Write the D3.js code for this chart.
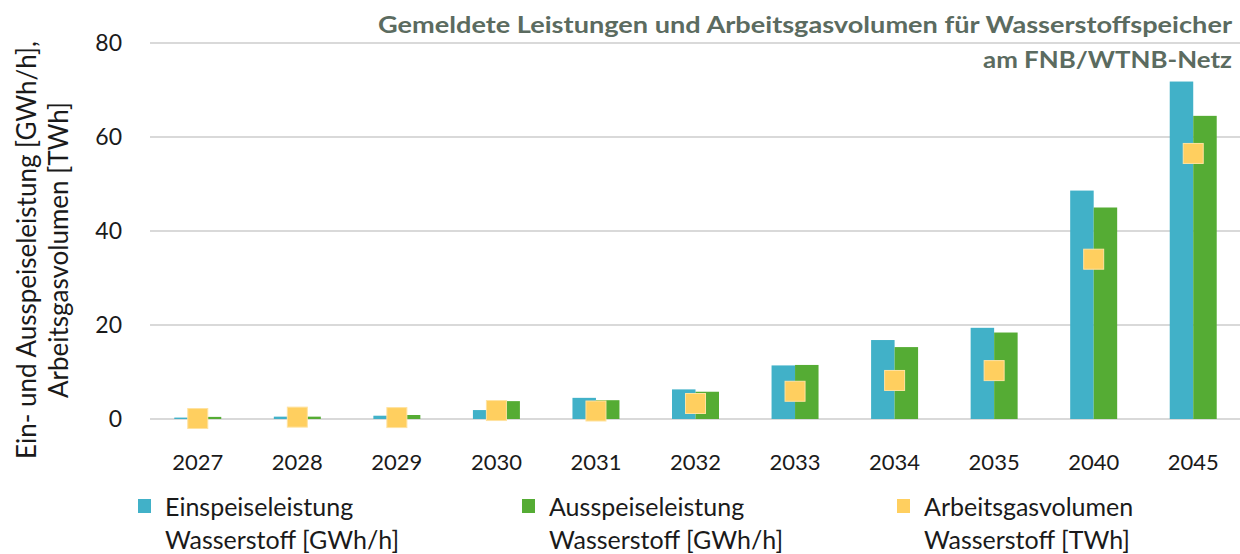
<!DOCTYPE html>
<html><head><meta charset="utf-8">
<script src="https://cdn.jsdelivr.net/npm/d3@7"></script>
<style>body{margin:0;background:#fff}svg{display:block}text{font-family:Lato,"Open Sans",sans-serif}</style>
</head><body><svg id="c" width="1240" height="554"></svg>
<script>
const categories = ["2027","2028","2029","2030","2031","2032","2033","2034","2035","2040","2045"];
const einspeisung = [0.3,0.5,0.7,1.9,4.5,6.3,11.4,16.8,19.4,48.6,71.8];
const ausspeisung = [0.45,0.5,0.85,3.8,4.0,5.8,11.5,15.3,18.4,45.0,64.5];
const arbeitsgas = [0.1,0.4,0.3,1.8,1.7,3.3,5.9,8.2,10.3,34.0,56.5];
const yTicks = [0,20,40,60,80];
const seriesNames = [["Einspeiseleistung","Wasserstoff [GWh/h]"],["Ausspeiseleistung","Wasserstoff [GWh/h]"],["Arbeitsgasvolumen","Wasserstoff [TWh]"]];
const colors = ["#41B1C8","#55AC34","#FFCF5F"];

const svg = d3.select("#c");
const x = d3.scaleBand().domain(categories).range([148,1243]).padding(0);
const y = d3.scaleLinear().domain([0,80]).range([419,43]);
const bw = x.bandwidth()*0.236;

// gridlines
svg.append("g").selectAll("line").data(yTicks).join("line")
  .attr("x1",150).attr("x2",1240).attr("y1",d=>y(d)).attr("y2",d=>y(d))
  .attr("stroke","#d9d9d9").attr("stroke-width",2);

// y tick labels
svg.append("g").selectAll("text").data(yTicks).join("text")
  .attr("x",122).attr("y",d=>y(d)+8).attr("text-anchor","end")
  .attr("font-size",23).attr("fill","#1a1a1a").text(d=>d);

// x labels
svg.append("g").selectAll("text").data(categories).join("text")
  .attr("x",d=>x(d)+x.bandwidth()/2).attr("y",470).attr("text-anchor","middle")
  .attr("font-size",22).attr("fill","#1a1a1a").text(d=>d);

// bars
const g = svg.append("g");
g.selectAll("rect.e").data(categories).join("rect").attr("class","e")
  .attr("x",d=>x(d)+x.bandwidth()/2-bw).attr("width",bw)
  .attr("y",(d,i)=>y(einspeisung[i])).attr("height",(d,i)=>y(0)-y(einspeisung[i]))
  .attr("fill",colors[0]);
g.selectAll("rect.a").data(categories).join("rect").attr("class","a")
  .attr("x",d=>x(d)+x.bandwidth()/2).attr("width",bw)
  .attr("y",(d,i)=>y(ausspeisung[i])).attr("height",(d,i)=>y(0)-y(ausspeisung[i]))
  .attr("fill",colors[1]);
g.selectAll("rect.v").data(categories).join("rect").attr("class","v")
  .attr("x",d=>x(d)+x.bandwidth()/2-10).attr("width",20)
  .attr("y",(d,i)=>y(arbeitsgas[i])-10).attr("height",20)
  .attr("fill",colors[2]).attr("stroke","#ffe2a0").attr("stroke-width",1);

// y axis title
const yt = svg.append("text").attr("transform","translate(0,250) rotate(-90)")
  .attr("text-anchor","middle").attr("font-size",26).attr("fill","#1a1a1a");
yt.append("tspan").attr("x",0).attr("y",36).text("Ein- und Ausspeiseleistung [GWh/h],");
yt.append("tspan").attr("x",0).attr("y",68).text("Arbeitsgasvolumen [TWh]");

// title
svg.append("text").attr("x",1232).attr("y",33).attr("text-anchor","end")
  .attr("font-family","'Open Sans'").attr("font-weight",700).attr("font-size",22)
  .attr("fill","#5b6b60").attr("textLength",854).attr("lengthAdjust","spacingAndGlyphs")
  .text("Gemeldete Leistungen und Arbeitsgasvolumen für Wasserstoffspeicher");
svg.append("text").attr("x",1232).attr("y",68).attr("text-anchor","end")
  .attr("font-family","'Open Sans'").attr("font-weight",700).attr("font-size",22)
  .attr("fill","#5b6b60").attr("textLength",249).attr("lengthAdjust","spacingAndGlyphs")
  .text("am FNB/WTNB-Netz");

// legend
const lx = [138,522,897];
const lg = svg.append("g").selectAll("g").data(seriesNames).join("g")
  .attr("transform",(d,i)=>`translate(${lx[i]},0)`);
lg.append("rect").attr("x",0).attr("y",499).attr("width",13).attr("height",14).attr("fill",(d,i)=>colors[i]);
lg.append("text").attr("x",27).attr("y",516).attr("font-size",25).attr("fill","#1a1a1a").text(d=>d[0]);
lg.append("text").attr("x",27).attr("y",549).attr("font-size",25).attr("fill","#1a1a1a").text(d=>d[1]);
</script></body></html>
